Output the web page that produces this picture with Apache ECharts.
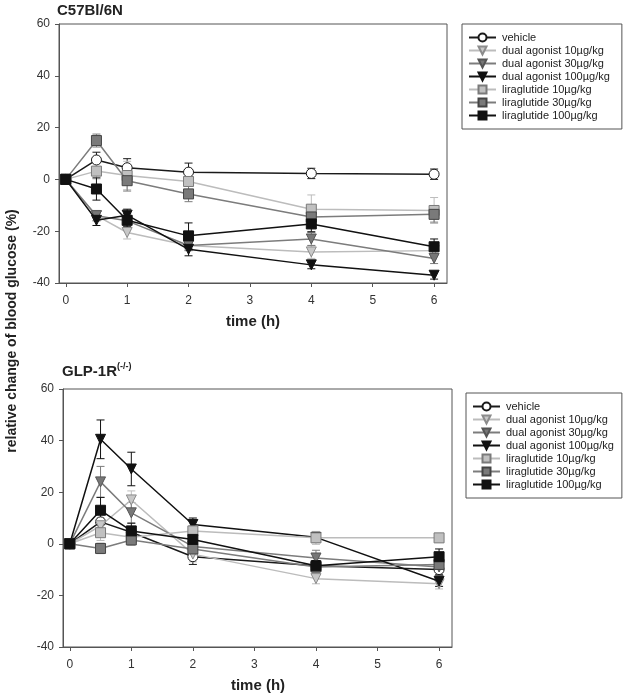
<!DOCTYPE html>
<html><head><meta charset="utf-8">
<script src="https://cdn.jsdelivr.net/npm/echarts@6/dist/echarts.min.js"></script>
<style>html,body{margin:0;padding:0;background:#fff}#c{width:626px;height:696px}</style>
</head><body><div id="c"></div>
<script>
const times = [0, 0.5, 1, 2, 4, 6];
const seriesNames = ['vehicle','dual agonist 10µg/kg','dual agonist 30µg/kg','dual agonist 100µg/kg','liraglutide 10µg/kg','liraglutide 30µg/kg','liraglutide 100µg/kg'];
const xTicks = [0,1,2,3,4,5,6];
const yTicks = [-40,-20,0,20,40,60];

// Panel A: C57Bl/6N
const wtVehicle  = [0, 7.5, 4.5, 2.8, 2.3, 2.0];
const wtDual10   = [0, -14, -20.5, -25.5, -28, -27.5];
const wtDual30   = [0, -14, -16, -25.5, -23, -30.5];
const wtDual100  = [0, -15.8, -13.8, -27, -33, -37];
const wtLira10   = [0, 3.2, 1.5, -0.8, -11.5, -12];
const wtLira30   = [0, 15, -0.5, -5.6, -14.5, -13.5];
const wtLira100  = [0, -3.7, -15.8, -21.8, -17.2, -26];
const wtVehicleErr = [0.8, 3, 3.5, 3.5, 2, 2];
const wtDual10Err  = [0.8, 2, 2.5, 2, 2.5, 2];
const wtDual30Err  = [0.8, 2, 2, 2, 2.5, 2];
const wtDual100Err = [0.8, 2, 2.3, 2.5, 1.5, 1.5];
const wtLira10Err  = [0.8, 3, 5.5, 3.5, 5.5, 5];
const wtLira30Err  = [0.8, 2.5, 4, 3, 3, 3];
const wtLira100Err = [0.8, 4.3, 2.5, 5, 3, 3];

// Panel B: GLP-1R(-/-)
const koVehicle  = [0, 8.5, 4.5, -5, -8.5, -10];
const koDual10   = [0, 7, 17, -4, -13.5, -15.5];
const koDual30   = [0, 24, 12, -1, -5.5, -9];
const koDual100  = [0, 40.5, 29, 7.5, 2.5, -14.5];
const koLira10   = [0, 4.3, 2.5, 5, 2.3, 2.3];
const koLira30   = [0, -1.8, 1.5, -2, -9, -8];
const koLira100  = [0, 13, 5, 1.7, -8.5, -5];
const koVehicleErr = [0.8, 3, 2, 3, 2, 2];
const koDual10Err  = [0.8, 3, 3.5, 3, 2, 2];
const koDual30Err  = [0.8, 6, 4, 2, 3, 2];
const koDual100Err = [0.8, 7.5, 6.5, 2.5, 2, 2];
const koLira10Err  = [0.8, 3, 2, 2, 2.5, 1.5];
const koLira30Err  = [0.8, 2, 2, 3, 2, 2];
const koLira100Err = [0.8, 5, 3, 3, 2, 3];

const styles = [
  {symbol:'circle', rot:0, line:'#1a1a1a', fill:'#ffffff', border:'#1a1a1a', size:10},
  {symbol:'triangle', rot:180, line:'#bcbcbc', fill:'#c8c8c8', border:'#8c8c8c', size:10},
  {symbol:'triangle', rot:180, line:'#7c7c7c', fill:'#777777', border:'#555555', size:10},
  {symbol:'triangle', rot:180, line:'#111111', fill:'#111111', border:'#111111', size:10},
  {symbol:'rect', rot:0, line:'#bcbcbc', fill:'#c0c0c0', border:'#7a7a7a', size:10},
  {symbol:'rect', rot:0, line:'#7c7c7c', fill:'#7a7a7a', border:'#444444', size:10},
  {symbol:'rect', rot:0, line:'#111111', fill:'#111111', border:'#111111', size:10}
];
const wtVals = [wtVehicle, wtDual10, wtDual30, wtDual100, wtLira10, wtLira30, wtLira100];
const wtErrs = [wtVehicleErr, wtDual10Err, wtDual30Err, wtDual100Err, wtLira10Err, wtLira30Err, wtLira100Err];
const koVals = [koVehicle, koDual10, koDual30, koDual100, koLira10, koLira30, koLira100];
const koErrs = [koVehicleErr, koDual10Err, koDual30Err, koDual100Err, koLira10Err, koLira30Err, koLira100Err];

const FONT = '"Liberation Sans", Arial, sans-serif';
const axisCol = '#555';

function errSeries(idx, vals, errs, st, k) {
  return {
    type:'custom', name:'err'+idx+'_'+k, xAxisIndex:idx, yAxisIndex:idx, z:1, silent:true,
    encode:{x:0, y:[1,2]},
    data: times.map((t,i)=>[t, vals[i]-errs[i], vals[i]+errs[i]]),
    renderItem:function(params, api){
      const x = api.value(0);
      const pH = api.coord([x, api.value(2)]);
      const pL = api.coord([x, api.value(1)]);
      const w = 4;
      const s = {stroke: st.line, lineWidth: 1};
      return {type:'group', children:[
        {type:'line', shape:{x1:pH[0], y1:pH[1], x2:pL[0], y2:pL[1]}, style:s},
        {type:'line', shape:{x1:pH[0]-w, y1:pH[1], x2:pH[0]+w, y2:pH[1]}, style:s},
        {type:'line', shape:{x1:pL[0]-w, y1:pL[1], x2:pL[0]+w, y2:pL[1]}, style:s}
      ]};
    }
  };
}
function lineSeries(idx, vals, st, k) {
  return {
    type:'line', name:seriesNames[k], xAxisIndex:idx, yAxisIndex:idx, z:2+k*0.01,
    data: times.map((t,i)=>[t, vals[i]]),
    symbol: st.symbol, symbolRotate: st.rot, symbolSize: st.size, showAllSymbol:true,
    lineStyle:{color: st.line, width: 1.5},
    itemStyle:{color: st.fill, borderColor: st.border, borderWidth: 1},
    emphasis:{disabled:true}, animation:false
  };
}
const series = [];
[[wtVals, wtErrs],[koVals, koErrs]].forEach(([V,E], idx)=>{
  V.forEach((v,k)=>series.push(errSeries(idx, v, E[k], styles[k], k)));
  V.forEach((v,k)=>series.push(lineSeries(idx, v, styles[k], k)));
});

function xAx(idx){
  return {gridIndex:idx, type:'value', min:-0.11, max:6.21,
    axisLine:{show:true, onZero:false, lineStyle:{color:axisCol, width:1}},
    axisTick:{show:true, length:4, inside:false, customValues:xTicks, lineStyle:{color:axisCol}},
    axisLabel:{customValues:xTicks, margin:12, fontSize:12, color:'#333', fontFamily:FONT},
    splitLine:{show:false}};
}
function yAx(idx){
  return {gridIndex:idx, type:'value', min:-40, max:60, interval:20,
    axisLine:{show:true, onZero:false, lineStyle:{color:axisCol, width:1}},
    axisTick:{show:true, length:4, lineStyle:{color:axisCol}},
    axisLabel:{margin:9, fontSize:12, color:'#333', fontFamily:FONT},
    splitLine:{show:false}};
}
function legend(left, top, padR){
  return {data:seriesNames, orient:'vertical', left:left, top:top, itemWidth:27, itemHeight:10, itemGap:2,
    padding:[8,padR,8,6], borderColor:'#555', borderWidth:1, selectedMode:false,
    textStyle:{fontSize:11, lineHeight:11, color:'#222', fontFamily:FONT, padding:[0,0,0,1]}};
}

const chart = echarts.init(document.getElementById('c'), null, {renderer:'canvas'});
chart.setOption({
  animation:false,
  backgroundColor:'#fff',
  grid:[
    {left:59, top:24, width:388, height:259, show:true, borderColor:axisCol, borderWidth:1},
    {left:63, top:389, width:389, height:258, show:true, borderColor:axisCol, borderWidth:1}
  ],
  xAxis:[xAx(0), xAx(1)],
  yAxis:[yAx(0), yAx(1)],
  legend:[legend(462, 24, 12), legend(466, 393, 8)],
  title:[
    {text:'C57Bl/6N', left:57, top:3, textStyle:{fontSize:15, fontWeight:'bold', color:'#222', fontFamily:FONT}, padding:0},
    {text:'{a|GLP-1R}{b|(-/-)}', left:62, top:362, padding:0,
     textStyle:{rich:{a:{fontSize:15, fontWeight:'bold', color:'#222', fontFamily:FONT, verticalAlign:'bottom', lineHeight:17},
                      b:{fontSize:9, fontWeight:'bold', color:'#222', fontFamily:FONT, verticalAlign:'top', lineHeight:17, padding:[0,0,8,0]}}}}
  ],
  graphic:[
    {type:'text', x:12, y:331, rotation:Math.PI/2, style:{text:'relative change of blood glucose (%)', align:'center', verticalAlign:'middle', font:'bold 14px ' + FONT, fill:'#222'}},
    {type:'text', x:253, y:322, style:{text:'time (h)', align:'center', verticalAlign:'middle', font:'bold 15px ' + FONT, fill:'#222'}},
    {type:'text', x:258, y:686, style:{text:'time (h)', align:'center', verticalAlign:'middle', font:'bold 15px ' + FONT, fill:'#222'}}
  ],
  series: series
});
</script></body></html>
